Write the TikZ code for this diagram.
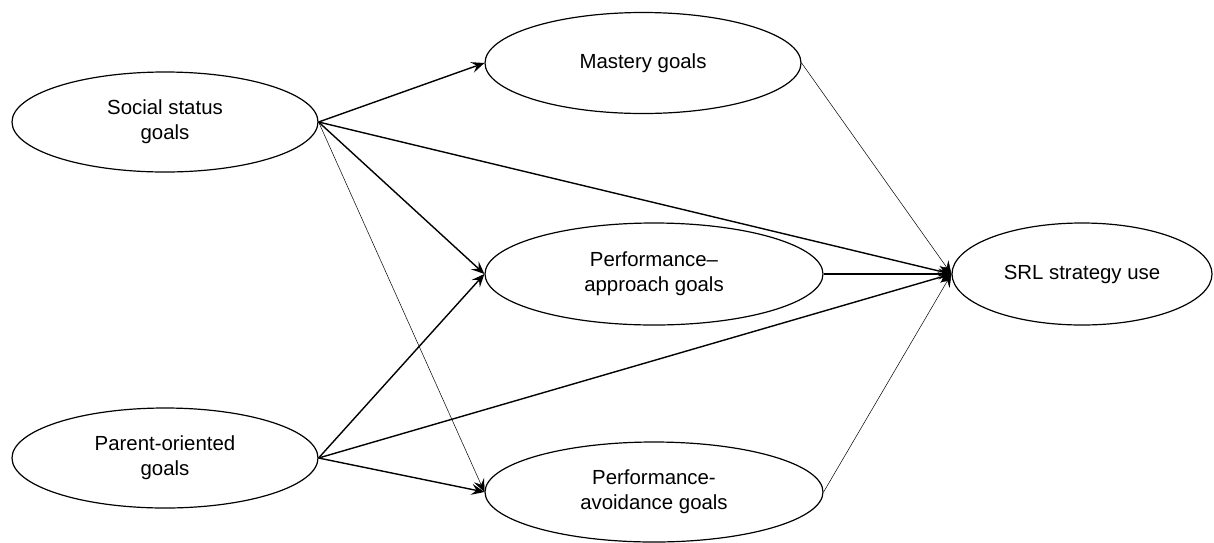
\documentclass[tikz,border=0pt]{standalone}
\usepackage{fontspec}
\setmainfont{Liberation Sans}
\usetikzlibrary{shapes.geometric,arrows.meta}
\begin{document}
\begin{tikzpicture}[x=1pt,y=-1pt,
  construct/.style={ellipse,draw,line width=1.2pt,inner sep=0pt,align=center,
    font=\fontsize{20.4}{25}\selectfont},
  path/.style={line width=1.4pt,-{Stealth[length=13pt,width=11pt,inset=5pt]}},
  weakpath/.style={line width=0.5pt,-{Stealth[length=13pt,width=11pt,inset=5pt]}}]
  \useasboundingbox (0,0) rectangle (1214,542);

  % constructs
  \node[construct,minimum width=306pt,minimum height=100pt] (ss) at (165,122) {Social status\\goals};
  \node[construct,minimum width=306pt,minimum height=100pt] (po) at (165,458) {Parent-oriented\\goals};
  \node[construct,minimum width=316pt,minimum height=101pt] (mg) at (643,63) {Mastery goals};
  \node[construct,minimum width=338pt,minimum height=102pt] (pa) at (654,274) {Performance–\\approach goals};
  \node[construct,minimum width=338pt,minimum height=100pt] (pv) at (654,492) {Performance-\\avoidance goals};
  \node[construct,minimum width=260pt,minimum height=102pt] (srl) at (1082,274) {SRL strategy use};

  % paths from social status goals
  \draw[path] (ss.east) -- (mg.west);
  \draw[path] (ss.east) -- (pa.west);
  \draw[path] (ss.east) -- (srl.west);
  \draw[weakpath] (ss.east) -- (pv.west);

  % paths from parent-oriented goals
  \draw[path] (po.east) -- (pa.west);
  \draw[path] (po.east) -- (pv.west);
  \draw[path] (po.east) -- (srl.west);

  % paths from achievement goals to strategy use
  \draw[weakpath] (mg.east) -- (srl.west);
  \draw[path] (pa.east) -- (srl.west);
  \draw[weakpath] (pv.east) -- (srl.west);
\end{tikzpicture}
\end{document}
